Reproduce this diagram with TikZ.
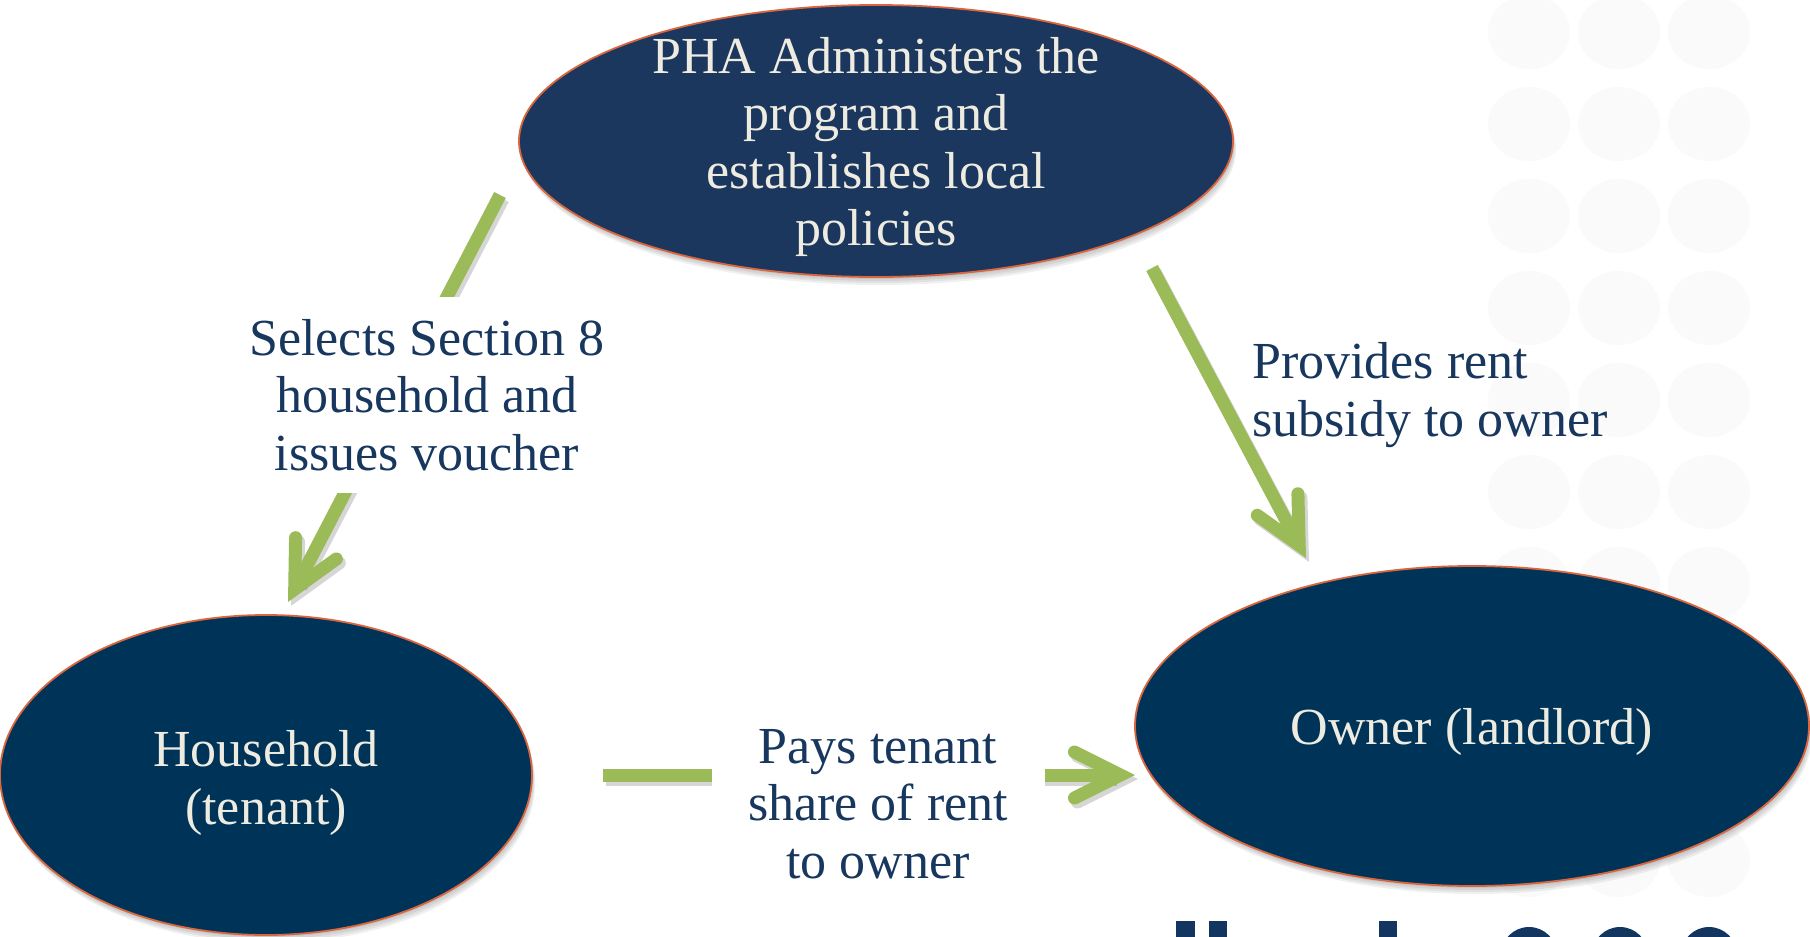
\documentclass[tikz,border=0pt]{standalone}
\usepackage{fontspec}
\setmainfont{Liberation Serif}
\usetikzlibrary{shapes.geometric,arrows.meta}

\definecolor{navytop}{HTML}{1C375E}
\definecolor{navy}{HTML}{003358}
\definecolor{rim}{HTML}{D9663F}
\definecolor{cream}{HTML}{EEECE1}
\definecolor{ink}{HTML}{17375E}
\definecolor{leaf}{HTML}{9BBB59}
\definecolor{dotgray}{HTML}{FAFAFA}
\definecolor{logoblue}{HTML}{12365F}

\tikzset{
  bigtext/.style={font=\fontsize{52}{57.5}\selectfont},
  actor/.style={ellipse, draw=rim, line width=1.8pt, inner sep=0pt},
  actortext/.style={bigtext, text=cream, align=center, inner sep=0pt, yshift=-6pt},
  softshadow/.style={ellipse, fill=black, opacity=0.06, draw=none, inner sep=0pt},
  barb/.tip={Straight Barb[length=46pt, width=46pt, line cap=round, line join=miter]},
  flow/.style={draw=leaf, line width=13pt, -barb},
  flowshadow/.style={draw=black, opacity=0.16, line width=13pt, -barb},
  note/.style={bigtext, text=ink, align=center, inner sep=0pt},
  dot/.style={ellipse, fill=dotgray, minimum width=82pt, minimum height=74pt, inner sep=0pt},
}

\begin{document}
\begin{tikzpicture}[x=1pt, y=-1pt]
  \useasboundingbox (0,0) rectangle (1810,937);
  \clip (0,0) rectangle (1810,937);
  \fill[white] (0,0) rectangle (1810,937);

  % faint dot grid at the right edge
  \foreach \cx in {1529,1619,1709}
    \foreach \i in {0,...,9}
      \node[dot] at (\cx, 32+92*\i) {};

  % footer logo, only its top edge shows
  \fill[logoblue] (1176,921) rectangle (1195,945);
  \fill[logoblue] (1209,921) rectangle (1227,945);
  \fill[logoblue] (1379,921) rectangle (1397,945);
  \foreach \cx in {1529,1620,1709}
    \fill[logoblue] (\cx,955) circle[radius=28];

  % soft shadows under the three actors
  \foreach \d in {2,4,6,8} {
    \node[softshadow, minimum width=714pt, minimum height=272pt]
      at (876,141) [xshift=0.4*\d pt, yshift=-\d pt] {};
    \node[softshadow, minimum width=532pt, minimum height=320pt]
      at (266,775) [xshift=0.4*\d pt, yshift=-\d pt] {};
    \node[softshadow, minimum width=674pt, minimum height=320pt]
      at (1472,726) [xshift=0.4*\d pt, yshift=-\d pt] {};
  }

  % actors
  \node[actor, fill=navytop, minimum width=714pt, minimum height=272pt] (pha) at (876,141) {};
  \node[actortext] (pha-t) at (pha) {PHA Administers the\\program and\\establishes local\\policies};

  \node[actor, fill=navy, minimum width=532pt, minimum height=320pt] (house) at (266,775) {};
  \node[actortext, yshift=-2pt] (house-t) at (house) {Household\\(tenant)};

  \node[actor, fill=navy, minimum width=674pt, minimum height=320pt] (owner) at (1472,726) {};
  \node[actortext] (owner-t) at (owner) {Owner (landlord)};

  % arrow end points
  \coordinate (pha-sw) at (500,195);
  \coordinate (house-n) at (288,602);
  \coordinate (pha-se) at (1152,268);
  \coordinate (owner-n) at (1306,558);
  \coordinate (house-e) at (603,775);
  \coordinate (owner-w) at (1135,775);

  % arrow shadows
  \draw[flowshadow, transform canvas={shift={(3pt,-4pt)}}] (pha-sw) -- (house-n);
  \draw[flowshadow, transform canvas={shift={(3pt,-4pt)}}] (pha-se) -- (owner-n);
  \draw[flowshadow, transform canvas={shift={(3pt,-4pt)}}] (house-e) -- (owner-w);

  % arrows
  \draw[flow] (pha-sw) -- (house-n);
  \draw[flow] (pha-se) -- (owner-n);
  \draw[flow] (house-e) -- (owner-w);

  % arrow labels
  \node[note, fill=white, minimum width=360pt, minimum height=196pt] (lbl-select) at (427,395)
    {Selects Section 8\\household and\\issues voucher};
  \node[note, align=left, anchor=west] (lbl-subsidy) at (1252,395)
    {Provides rent\\subsidy to owner};
  \node[note, fill=white, minimum width=333pt, minimum height=180pt] (lbl-pays) at (878,804)
    {Pays tenant\\share of rent\\to owner};
\end{tikzpicture}
\end{document}
